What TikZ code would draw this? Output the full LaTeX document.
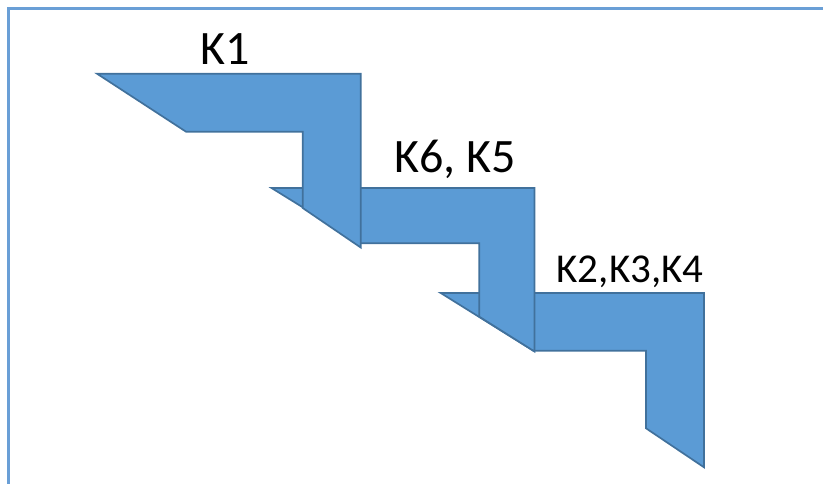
\documentclass[tikz,border=0pt]{standalone}
\usepackage{fontspec}
\setmainfont{Carlito}
\definecolor{stepfill}{HTML}{5B9BD5}
\definecolor{stepline}{HTML}{41719C}
\definecolor{framecol}{HTML}{6A9FD6}
\begin{document}
\begin{tikzpicture}[x=1pt,y=-1pt,
  stair/.style={fill=stepfill,draw=stepline,line width=1.7pt,line join=miter},
  frameline/.style={draw=framecol,line width=2.6pt},
  biglabel/.style={anchor=base,inner sep=0pt,font=\fontsize{48}{50}\selectfont},
  smalllabel/.style={anchor=base,inner sep=0pt,font=\fontsize{41}{44}\selectfont}]
\useasboundingbox (0,0) rectangle (823,484);
% open frame: left and top edges
\draw[frameline] (8.7,484) -- (8.7,8.5) -- (823,8.5);
% third step (bottom), drawn first so the upper steps overlap it
\draw[stair] (440.7,293) -- (704,293) -- (704,467.3) -- (646,428.3)
  -- (646,350.7) -- (533.3,350.7) -- cycle;
% second step
\draw[stair] (271.5,188) -- (534.5,188) -- (534.5,351.5) -- (479.3,316.7)
  -- (479.3,243.3) -- (361,243.3) -- cycle;
% first step (top)
\draw[stair] (97,73.7) -- (360.7,73.7) -- (360.7,247.5) -- (302.7,208)
  -- (302.7,131.7) -- (186,131.7) -- cycle;
% labels
\node[biglabel] (k1) at (225.5,65) {K1};
\node[biglabel] (k65) at (455,173) {K6, K5};
\node[smalllabel] (k234) at (630,283) {K2,K3,K4};
\end{tikzpicture}
\end{document}
